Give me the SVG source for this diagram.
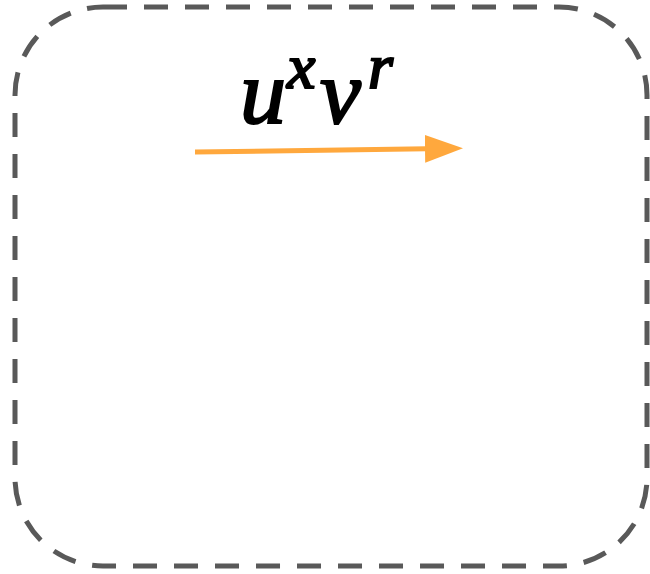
<svg xmlns="http://www.w3.org/2000/svg" width="650" height="574" viewBox="0 0 650 574">
<style>
.frame{fill:none;stroke:#595959;stroke-width:5;stroke-dasharray:24 17}
.conn{stroke:#FFA83D;stroke-width:5;fill:none}
</style>
<defs>
<marker id="ah" markerUnits="userSpaceOnUse" markerWidth="40" markerHeight="30" refX="2" refY="14" orient="auto">
<path d="M0,0 L38,14 L0,28 Z" fill="#FFA83D"/>
</marker>
</defs>
<g id="frame">
<rect class="frame" x="15" y="7" width="632" height="559" rx="88" ry="88"/>
</g>
<g id="connectors">
<line class="conn" x1="195" y1="152" x2="427" y2="148.8" marker-end="url(#ah)"/>
</g>
<g id="label">
<text font-family="Liberation Serif" font-style="italic" fill="#000" stroke="#000" stroke-width="2.2" y="123"><tspan x="240" font-size="92">u</tspan><tspan x="287" y="88" font-size="64">x</tspan><tspan x="320" y="123" font-size="92">v</tspan><tspan x="368" y="88" font-size="64">r</tspan></text>
</g>
</svg>
